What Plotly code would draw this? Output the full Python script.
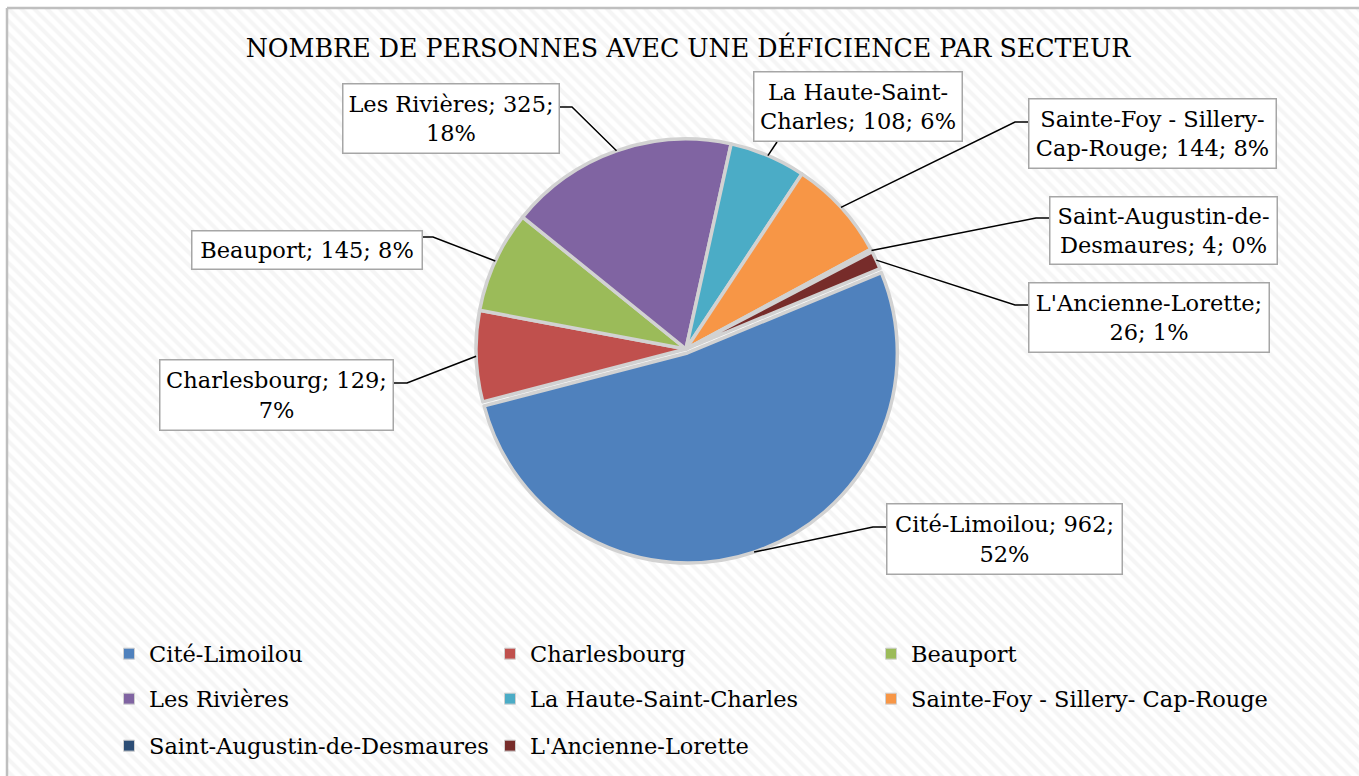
import numpy as np
import plotly.graph_objects as go

W, H = 1359, 776

# ---------------- data ----------------
secteurs = ["Cité-Limoilou", "Charlesbourg", "Beauport", "Les Rivières",
            "La Haute-Saint-Charles", "Sainte-Foy - Sillery- Cap-Rouge",
            "Saint-Augustin-de-Desmaures", "L'Ancienne-Lorette"]
personnes = [962, 129, 145, 325, 108, 144, 4, 26]
titre = "NOMBRE DE PERSONNES AVEC UNE DÉFICIENCE PAR SECTEUR"
# first line of each wrapped data label (None = single line)
premiere_ligne = ["Cité-Limoilou; 962;", "Charlesbourg; 129;", None, "Les Rivières; 325;",
                  "La Haute-Saint-", "Sainte-Foy - Sillery-", "Saint-Augustin-de-",
                  "L'Ancienne-Lorette;"]

# ---------------- style / layout ----------------
couleurs = ["#4F81BD", "#C0504D", "#9BBB59", "#8064A2", "#4BACC6", "#F79646", "#2C4D75", "#772C2A"]
FONT = "DejaVu Serif"
LBL_SIZE = 22.5
rotation = 67.5
pulls = [0.02, 0, 0, 0, 0, 0, 0, 0]
cx, cy, R = 686, 349, 210          # pixel centre / radius of pie
# label boxes (x0, y0, x1, y1) and leader attach / elbow points in pixels
boites = [(886, 503, 1123, 575), (159, 359, 394, 431), (191, 230, 423, 270), (342, 83, 560, 154),
          (753, 71, 963, 142), (1028, 98, 1277, 169), (1049, 196, 1278, 265), (1028, 282, 1270, 353)]
attaches = [(886, 527), (394, 383), (423, 237), (560, 107),
            (777, 142), (1028, 122), (1049, 218), (1028, 305)]
coudes = [(873, 527), (407, 383), (433, 237), (572, 107),
          None, (1015, 122), (1036, 218), (1015, 305)]
legend_rows = [[0, 1, 2], [3, 4, 5], [6, 7]]
legend_y = [654, 699, 746]

total = sum(personnes)
pcts = [round(100 * v / total) for v in personnes]

fig = go.Figure()

# background hatched panel (decoration)
fig.add_trace(go.Scatter(
    x=[7, W, W, 7, 7], y=[9, 9, H, H, 9], mode="lines", fill="toself",
    line=dict(width=0), fillcolor="white",
    fillpattern=dict(shape="\\", fgcolor="#ececec", bgcolor="white", size=9, solidity=0.45),
    hoverinfo="skip", showlegend=False, xaxis="x", yaxis="y"))

# pie
maxpull = max(pulls)
r0 = R * (1 + maxpull)
fig.add_trace(go.Pie(
    labels=secteurs, values=personnes, sort=False, direction="clockwise",
    rotation=rotation, pull=pulls, textinfo="none", showlegend=False,
    marker=dict(colors=couleurs, line=dict(color="#d2d2d2", width=3.5)),
    domain=dict(x=[(cx - r0) / W, (cx + r0) / W], y=[(H - cy - r0) / H, (H - cy + r0) / H]),
    hoverinfo="label+value+percent"))

# legend entries (dummy traces so the legend can be laid out in 3 rows)
for row, idxs in enumerate(legend_rows):
    lg = "legend" if row == 0 else f"legend{row + 1}"
    for col, i in enumerate(idxs):
        fig.add_trace(go.Scatter(
            x=[None], y=[None], mode="markers", name=secteurs[i], legend=lg,
            legendwidth=336 if col < 2 else 400,
            marker=dict(symbol="square", size=11, color=couleurs[i],
                        line=dict(color="#d0d0d0", width=1)),
            xaxis="x", yaxis="y"))

# data labels + leader lines
fracs = np.array(personnes) / total
cum = np.cumsum(fracs) - fracs / 2
mid = np.deg2rad(rotation + 360 * cum)
annotations = []
shapes = []
for i, nom in enumerate(secteurs):
    txt = f"{nom}; {personnes[i]}; {pcts[i]}%"
    if premiere_ligne[i]:
        txt = premiere_ligne[i] + "<br>" + txt[len(premiere_ligne[i]):].strip()
    x0, y0, x1, y1 = boites[i]
    annotations.append(dict(
        x=(x0 + x1) / 2, y=(y0 + y1) / 2, xref="x", yref="y", text=txt, showarrow=False,
        xanchor="center", yanchor="middle", align="center",
        width=x1 - x0 - 3, height=y1 - y0 - 3, borderpad=0,
        bgcolor="white", bordercolor="#a6a6a6", borderwidth=1.5,
        font=dict(family=FONT, size=LBL_SIZE, color="black")))
    ex = cx + R * (1 + pulls[i]) * np.sin(mid[i])
    ey = cy - R * (1 + pulls[i]) * np.cos(mid[i])
    pts = [(ex, ey)]
    if coudes[i]:
        pts.append(coudes[i])
    pts.append(attaches[i])
    path = "M " + " L ".join(f"{px:.1f},{py:.1f}" for px, py in pts)
    shapes.append(dict(type="path", path=path, xref="x", yref="y",
                       line=dict(color="black", width=1.5), layer="above"))

# chart border (top / left)
shapes.append(dict(type="line", x0=7, y0=8, x1=W, y1=8, xref="x", yref="y",
                   line=dict(color="#bfbfbf", width=2.5), layer="above"))
shapes.append(dict(type="line", x0=7, y0=8, x1=7, y1=H, xref="x", yref="y",
                   line=dict(color="#bfbfbf", width=2.5), layer="above"))

leg_common = dict(orientation="h", xanchor="left", yanchor="middle", x=109 / W,
                  entrywidth=336, entrywidthmode="pixels", bgcolor="rgba(0,0,0,0)",
                  font=dict(family=FONT, size=LBL_SIZE, color="black"), itemclick=False)
layout_legends = {}
for row in range(len(legend_rows)):
    key = "legend" if row == 0 else f"legend{row + 1}"
    layout_legends[key] = dict(leg_common, y=1 - legend_y[row] / H)

fig.update_layout(
    width=W, height=H, margin=dict(l=0, r=0, t=0, b=0),
    paper_bgcolor="white", plot_bgcolor="rgba(0,0,0,0)",
    title=dict(text=titre, x=688 / W, xanchor="center", y=1 - 48 / H, yanchor="middle",
               font=dict(family=FONT, size=25.3, color="black")),
    xaxis=dict(range=[0, W], visible=False, fixedrange=True, domain=[0, 1]),
    yaxis=dict(range=[H, 0], visible=False, fixedrange=True, domain=[0, 1]),
    annotations=annotations, shapes=shapes, showlegend=True,
    **layout_legends)

fig.write_html("out.html", config={"displayModeBar": False},
               post_script="document.body.style.margin='0';document.body.style.overflow='hidden';")
